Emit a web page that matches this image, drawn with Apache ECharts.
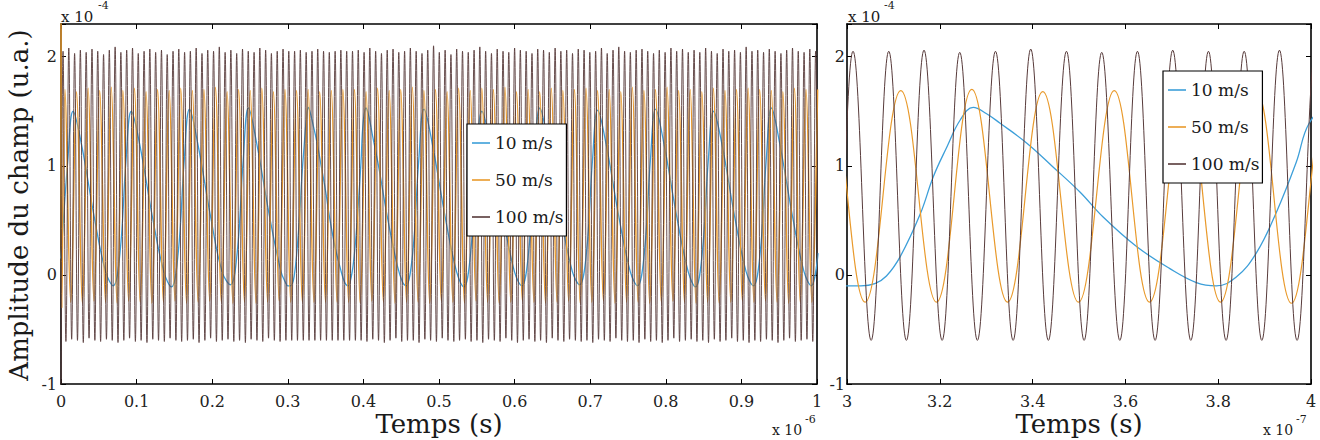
<!DOCTYPE html>
<html lang="fr">
<head>
<meta charset="UTF-8">
<title>Amplitude du champ</title>
<script src="https://cdn.jsdelivr.net/npm/echarts@6/dist/echarts.min.js"></script>
<style>
  html, body { margin: 0; padding: 0; background: #fff; }
  #main { width: 1320px; height: 440px; }
</style>
</head>
<body>
<div id="main"></div>
<script>
// temps en ns (axe gauche : x 10^-6 s, axe droit : x 10^-7 s), amplitude en 10^-4 u.a.
// extrema

// 100 m/s
const t100 = [0,
  2.7, 6.5, 10.3, 14.1, 18.0, 21.8, 25.6, 29.5, 33.3, 37.1, 41.0, 44.8, 48.6, 52.4, 56.3, 60.1, 63.9, 67.8, 71.6, 75.4,
  79.2, 83.1, 86.9, 90.7, 94.6, 98.4, 102.2, 106.0, 109.9, 113.7, 117.5, 121.4, 125.2, 129.0, 132.9, 136.7, 140.5, 144.3, 148.2, 152.0,
  155.8, 159.6, 163.5, 167.3, 171.1, 175.0, 178.8, 182.6, 186.5, 190.3, 194.1, 197.9, 201.8, 205.6, 209.4, 213.3, 217.1, 220.9, 224.7, 228.6,
  232.4, 236.2, 240.1, 243.9, 247.7, 251.5, 255.4, 259.2, 263.0, 266.9, 270.7, 274.5, 278.3, 282.2, 286.0, 289.8, 293.7, 297.5, 301.3, 305.2,
  309.0, 312.8, 316.6, 320.5, 324.3, 328.1, 332.0, 335.8, 339.6, 343.4, 347.3, 351.1, 354.9, 358.8, 362.6, 366.4, 370.2, 374.1, 377.9, 381.7,
  385.6, 389.4, 393.2, 397.0, 400.9, 404.7, 408.5, 412.4, 416.2, 420.0, 423.9, 427.7, 431.5, 435.3, 439.2, 443.0, 446.8, 450.7, 454.5, 458.3,
  462.1, 466.0, 469.8, 473.6, 477.5, 481.3, 485.1, 488.9, 492.8, 496.6, 500.4, 504.3, 508.1, 511.9, 515.8, 519.6, 523.4, 527.2, 531.1, 534.9,
  538.7, 542.5, 546.4, 550.2, 554.0, 557.9, 561.7, 565.5, 569.4, 573.2, 577.0, 580.8, 584.7, 588.5, 592.3, 596.2, 600.0, 603.8, 607.6, 611.5,
  615.3, 619.1, 623.0, 626.8, 630.6, 634.4, 638.3, 642.1, 645.9, 649.8, 653.6, 657.4, 661.2, 665.1, 668.9, 672.7, 676.6, 680.4, 684.2, 688.1,
  691.9, 695.7, 699.5, 703.4, 707.2, 711.0, 714.9, 718.7, 722.5, 726.3, 730.2, 734.0, 737.8, 741.7, 745.5, 749.3, 753.1, 757.0, 760.8, 764.6,
  768.5, 772.3, 776.1, 780.0, 783.8, 787.6, 791.4, 795.3, 799.1, 802.9, 806.8, 810.6, 814.4, 818.2, 822.1, 825.9, 829.7, 833.6, 837.4, 841.2,
  845.0, 848.9, 852.7, 856.5, 860.4, 864.2, 868.0, 871.8, 875.7, 879.5, 883.3, 887.2, 891.0, 894.8, 898.7, 902.5, 906.3, 910.1, 914.0, 917.8,
  921.6, 925.4, 929.3, 933.1, 936.9, 940.8, 944.6, 948.4, 952.3, 956.1, 959.9, 963.7, 967.6, 971.4, 975.2, 979.1, 982.9, 986.7, 990.5, 994.4,
  998.2, 1002.0];
const v100 = [-1.2,
  2.05, -0.61, 2.08, -0.59, 2.03, -0.60, 2.06, -0.62, 2.04, -0.58, 2.07, -0.60, 2.05, -0.61, 2.02, -0.59, 2.06, -0.60, 2.09, -0.62,
  2.04, -0.60, 2.06, -0.58, 2.08, -0.61, 2.03, -0.60, 2.05, -0.62, 2.07, -0.59, 2.04, -0.60, 2.06, -0.61, 2.02, -0.58, 2.05, -0.60,
  2.07, -0.61, 2.04, -0.60, 2.05, -0.59, 2.08, -0.62, 2.03, -0.60, 2.06, -0.58, 2.05, -0.61, 2.09, -0.60, 2.04, -0.59, 2.06, -0.61,
  2.03, -0.60, 2.07, -0.62, 2.05, -0.59, 2.04, -0.60, 2.08, -0.61, 2.06, -0.58, 2.03, -0.60, 2.05, -0.61, 2.07, -0.60, 2.05, -0.60,
  2.05, -0.60, 2.06, -0.60, 2.04, -0.60, 2.05, -0.60, 2.07, -0.60, 2.05, -0.60, 2.04, -0.60, 2.05, -0.60, 2.06, -0.60, 2.05, -0.60,
  2.05, -0.60, 2.06, -0.60, 2.04, -0.61, 2.08, -0.59, 2.05, -0.60, 2.03, -0.62, 2.06, -0.60, 2.07, -0.58, 2.04, -0.61, 2.05, -0.60,
  2.08, -0.60, 2.05, -0.62, 2.03, -0.59, 2.06, -0.60, 2.10, -0.61, 2.04, -0.58, 2.06, -0.60, 2.02, -0.61, 2.07, -0.60, 2.05, -0.59,
  2.04, -0.61, 2.06, -0.60, 2.09, -0.62, 2.05, -0.59, 2.03, -0.60, 2.07, -0.61, 2.05, -0.58, 2.04, -0.60, 2.08, -0.62, 2.06, -0.60,
  2.05, -0.59, 2.03, -0.61, 2.07, -0.60, 2.06, -0.62, 2.04, -0.58, 2.08, -0.60, 2.05, -0.61, 2.06, -0.59, 2.03, -0.60, 2.07, -0.61,
  2.06, -0.60, 2.04, -0.62, 2.05, -0.59, 2.08, -0.60, 2.03, -0.61, 2.06, -0.58, 2.09, -0.60, 2.05, -0.61, 2.04, -0.60, 2.06, -0.62,
  2.07, -0.59, 2.05, -0.61, 2.03, -0.60, 2.06, -0.62, 2.04, -0.60, 2.08, -0.58, 2.05, -0.61, 2.07, -0.60, 2.04, -0.59, 2.06, -0.61,
  2.04, -0.60, 2.08, -0.62, 2.05, -0.59, 2.03, -0.61, 2.07, -0.60, 2.05, -0.58, 2.06, -0.61, 2.04, -0.60, 2.09, -0.62, 2.05, -0.60,
  2.06, -0.61, 2.04, -0.59, 2.07, -0.60, 2.05, -0.62, 2.03, -0.60, 2.06, -0.58, 2.08, -0.61, 2.05, -0.60, 2.04, -0.59, 2.07, -0.61,
  2.05, -0.60];

// 50 m/s
const t50 = [0, 1.0,
  5.3, 12.9, 20.6, 28.3, 35.9, 43.6, 51.2, 58.9, 66.5, 74.2,
  81.9, 89.5, 97.2, 104.8, 112.5, 120.2, 127.8, 135.5, 143.1, 150.8,
  158.4, 166.1, 173.8, 181.4, 189.1, 196.7, 204.4, 212.1, 219.7, 227.4,
  235.0, 242.7, 250.3, 258.0, 265.7, 273.3, 281.0, 288.6, 296.3, 303.9,
  311.6, 319.3, 326.9, 334.6, 342.2, 349.9, 357.6, 365.2, 372.9, 380.5,
  388.2, 395.8, 403.5, 411.2, 418.8, 426.5, 434.1, 441.8, 449.4, 457.1,
  464.8, 472.4, 480.1, 487.7, 495.4, 503.1, 510.7, 518.4, 526.0, 533.7,
  541.3, 549.0, 556.7, 564.3, 572.0, 579.6, 587.3, 595.0, 602.6, 610.3,
  617.9, 625.6, 633.2, 640.9, 648.6, 656.2, 663.9, 671.5, 679.2, 686.8,
  694.5, 702.2, 709.8, 717.5, 725.1, 732.8, 740.5, 748.1, 755.8, 763.4,
  771.1, 778.7, 786.4, 794.1, 801.7, 809.4, 817.0, 824.7, 832.3, 840.0,
  847.7, 855.3, 863.0, 870.6, 878.3, 886.0, 893.6, 901.3, 908.9, 916.6,
  924.2, 931.9, 939.6, 947.2, 954.9, 962.5, 970.2, 977.9, 985.5, 993.2,
  1000.8];
const v50 = [2.5, -0.3,
  1.70, -0.25, 1.68, -0.26, 1.71, -0.24, 1.69, -0.25, 1.72, -0.26,
  1.69, -0.24, 1.71, -0.25, 1.68, -0.26, 1.70, -0.25, 1.69, -0.24,
  1.71, -0.26, 1.69, -0.25, 1.70, -0.24, 1.72, -0.25, 1.68, -0.26,
  1.70, -0.25, 1.69, -0.26, 1.71, -0.25, 1.68, -0.24, 1.70, -0.25,
  1.69, -0.25, 1.70, -0.25, 1.68, -0.25, 1.69, -0.25, 1.70, -0.25,
  1.70, -0.26, 1.68, -0.24, 1.71, -0.25, 1.69, -0.26, 1.70, -0.25,
  1.72, -0.25, 1.69, -0.26, 1.70, -0.24, 1.68, -0.25, 1.71, -0.26,
  1.69, -0.24, 1.71, -0.25, 1.70, -0.26, 1.72, -0.25, 1.68, -0.24,
  1.70, -0.25, 1.68, -0.26, 1.71, -0.25, 1.69, -0.24, 1.70, -0.26,
  1.71, -0.25, 1.69, -0.24, 1.70, -0.26, 1.68, -0.25, 1.72, -0.25,
  1.69, -0.26, 1.70, -0.25, 1.72, -0.24, 1.69, -0.25, 1.70, -0.26,
  1.68, -0.25, 1.71, -0.26, 1.69, -0.25, 1.70, -0.24, 1.71, -0.25,
  1.70, -0.24, 1.69, -0.25, 1.68, -0.26, 1.71, -0.25, 1.70, -0.25,
  1.70];

// 10 m/s
const t10 = [0, 9, 16, 27, 44, 59,
  69, 78, 86, 93, 104, 121, 136,
  146, 155, 163, 170, 181, 198, 213,
  224, 233, 241, 248, 259, 276, 291, 297, 300,
  303, 306, 308.5, 311.5, 315.8, 318.6, 321.5, 324.4, 327.2, 330, 333, 338.7, 344.4, 350.2, 355.2, 362.4, 369.5, 375.3,
  379.6, 383.9, 388.2, 392.5, 396.8, 399.6, 403.5, 407, 412, 420, 432, 445, 452,
  456.2, 465.2, 473.2, 480.2, 491.2, 508.2, 523.2,
  532.8, 541.8, 549.8, 556.8, 567.8, 584.8, 599.8,
  609.4, 618.4, 626.4, 633.4, 644.4, 661.4, 676.4,
  686, 695, 703, 710, 721, 738, 753,
  762.6, 771.6, 779.6, 786.6, 797.6, 814.6, 829.6,
  839.2, 848.2, 856.2, 863.2, 874.2, 891.2, 906.2,
  915.8, 924.8, 932.8, 939.8, 950.8, 967.8, 982.8,
  992.4, 1001.4];
const v10 = [0.15, 1.05, 1.50, 1.20, 0.53, 0.03,
  -0.10, 0.20, 1.05, 1.50, 1.20, 0.53, 0.03,
  -0.11, 0.20, 1.05, 1.52, 1.20, 0.53, 0.03,
  -0.09, 0.20, 1.05, 1.53, 1.20, 0.53, 0.03, -0.07, -0.10,
  -0.10, -0.08, -0.01, 0.17, 0.56, 0.90, 1.17, 1.42, 1.535, 1.48, 1.39, 1.21, 0.99, 0.76, 0.53, 0.26, 0.06, -0.07,
  -0.10, -0.02, 0.20, 0.57, 1.03, 1.39, 1.53, 1.46, 1.28, 1.00, 0.52, 0.08, -0.07,
  -0.10, 0.20, 1.05, 1.52, 1.20, 0.53, 0.03,
  -0.11, 0.20, 1.05, 1.50, 1.20, 0.53, 0.03,
  -0.10, 0.20, 1.05, 1.53, 1.20, 0.53, 0.03,
  -0.09, 0.20, 1.05, 1.51, 1.20, 0.53, 0.03,
  -0.10, 0.20, 1.05, 1.52, 1.20, 0.53, 0.03,
  -0.11, 0.20, 1.05, 1.50, 1.20, 0.53, 0.03,
  -0.10, 0.20, 1.05, 1.53, 1.20, 0.53, 0.03,
  -0.10, 0.20];

const names = ['10 m/s', '50 m/s', '100 m/s'];
const colors = ['#3d9fd9', '#e99a2c', '#573a3a'];
const widthsLeft = [1.3, 1.5, 0.9];
const widthsRight = [1.3, 1.2, 1.0];
const yTicks = [-1, 0, 1, 2];

const FONT = 'DejaVu Serif';
const pairs = (t, v) => t.map((x, i) => [x, v[i]]);
const sets = [pairs(t10, v10), pairs(t50, v50), pairs(t100, v100)];

const line = { color: '#000', width: 1.6 };
const tick = { inside: true, length: 5, lineStyle: { color: '#000', width: 1 } };

function xPair(grid, min, max, step, div) {
  return [
    { gridIndex: grid, type: 'value', position: 'bottom', min: min, max: max, interval: step,
      axisLine: { onZero: false, lineStyle: line }, axisTick: tick, splitLine: { show: false },
      axisLabel: { margin: 9, color: '#222', fontFamily: FONT, fontSize: 16,
                   showMinLabel: true, showMaxLabel: true, formatter: v => String(v / div) } },
    { gridIndex: grid, type: 'value', position: 'top', min: min, max: max, interval: step,
      axisLine: { onZero: false, lineStyle: line }, axisTick: tick, splitLine: { show: false },
      axisLabel: { show: false } }
  ];
}

function yPair(grid, margin) {
  return [
    { gridIndex: grid, type: 'value', position: 'left', min: -1, max: 2.3, interval: 1,
      axisLine: { onZero: false, lineStyle: line }, axisTick: tick, splitLine: { show: false },
      axisLabel: { margin: margin, color: '#222', fontFamily: FONT, fontSize: 16, padding: [8, 0, 0, 0],
                   formatter: v => yTicks.includes(v) ? String(v) : '' } },
    { gridIndex: grid, type: 'value', position: 'right', min: -1, max: 2.3, interval: 1,
      axisLine: { onZero: false, lineStyle: line }, axisTick: tick, splitLine: { show: false },
      axisLabel: { show: false } }
  ];
}

const series = [];
[0, 1].forEach(p => {
  const w = p === 0 ? widthsLeft : widthsRight;
  sets.forEach((d, i) => {
    series.push({
      type: 'line', name: names[i], data: d,
      xAxisIndex: 2 * p, yAxisIndex: 2 * p,
      symbol: 'none', smooth: 0.4, clip: true, silent: true,
      lineStyle: { color: colors[i], width: w[i] },
      itemStyle: { color: colors[i] }
    });
  });
});

function legendAt(left, top) {
  return {
    left: left, top: top, orient: 'vertical', data: names, selectedMode: false,
    icon: 'rect', itemWidth: 18, itemHeight: 1.6, itemGap: 17, padding: [9, 3, 9, 5],
    borderColor: '#000', borderWidth: 1.2, backgroundColor: '#fff',
    textStyle: { fontFamily: FONT, fontSize: 17, lineHeight: 20, color: '#1a1a1a' }
  };
}

function txt(x, y, s, size, extra) {
  return Object.assign({
    type: 'text', x: x, y: y, silent: true,
    style: { text: s, fontFamily: FONT, fontSize: size, fill: '#1a1a1a', align: 'left', verticalAlign: 'middle' }
  }, extra || {});
}

function title(x, y, s, rot) {
  return {
    type: 'text', x: x, y: y, rotation: rot || 0, silent: true,
    style: { text: s, fontFamily: FONT, fontSize: 26, fill: '#1a1a1a', align: 'center', verticalAlign: 'middle' }
  };
}

const chart = echarts.init(document.getElementById('main'), null, { renderer: 'svg' });
chart.setOption({
  backgroundColor: '#fff',
  animation: false,
  grid: [
    { left: 61, top: 24, width: 756, height: 360 },
    { left: 847, top: 24, width: 464, height: 360 }
  ],
  xAxis: xPair(0, 0, 1000, 100, 1000).concat(xPair(1, 300, 400, 20, 100)),
  yAxis: yPair(0, 4).concat(yPair(1, 2)),
  legend: [legendAt(467, 124), legendAt(1163, 71)],
  series: series,
  graphic: [
    title(19, 205, 'Amplitude du champ (u.a.)', Math.PI / 2),
    title(439, 424, 'Temps (s)'),
    title(1079, 424, 'Temps (s)'),
    txt(61, 17, 'x 10', 15), txt(98, 5, '-4', 11),
    txt(848, 17, 'x 10', 15), txt(884, 5, '-4', 11),
    txt(772, 430, 'x 10', 14), txt(805, 419, '-6', 11),
    txt(1263, 430, 'x 10', 14), txt(1296, 419, '-7', 11)
  ]
});
</script>
</body>
</html>
